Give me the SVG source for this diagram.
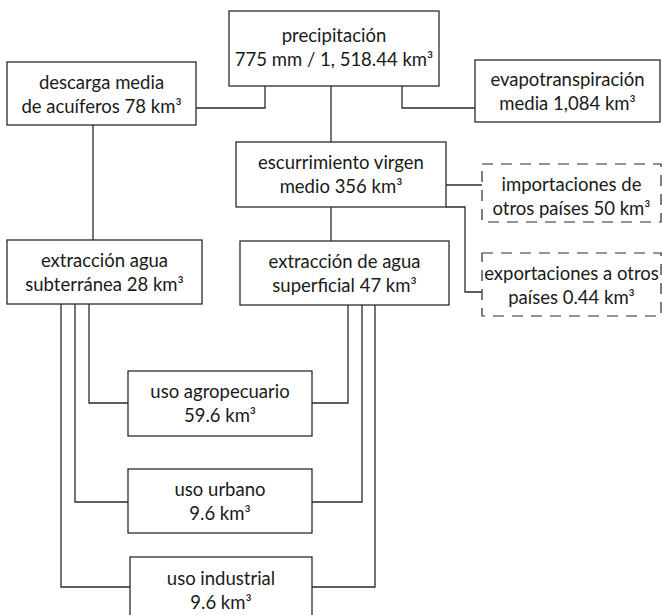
<svg xmlns="http://www.w3.org/2000/svg" width="662" height="615" viewBox="0 0 662 615">
  <style>
    .box { fill: #ffffff; stroke: #2b2b2b; stroke-width: 1.3; }
    .dash { fill: none; stroke: #2b2b2b; stroke-width: 1.2; stroke-dasharray: 11 8; }
    .wire { fill: none; stroke: #2b2b2b; stroke-width: 1.3; }
    text { font-family: Lato, "Liberation Sans", sans-serif; font-size: 18.5px; fill: #1a1a1a; text-anchor: middle; }
  </style>
  <rect width="662" height="615" fill="#ffffff"/>

  <!-- connectors -->
  <g id="connectors">
    <path class="wire" d="M196 108 H265 V86"/>
    <path class="wire" d="M475 108 H402 V86"/>
    <path class="wire" d="M331 86 V142"/>
    <path class="wire" d="M93 125 V240"/>
    <path class="wire" d="M331 207 V241"/>
    <path class="wire" d="M446 185 H482"/>
    <path class="wire" d="M446 207 H465 V292 H482"/>
    <path class="wire" d="M89 304 V403 H128"/>
    <path class="wire" d="M75 304 V502 H128"/>
    <path class="wire" d="M61 304 V587 H130"/>
    <path class="wire" d="M348 305 V403 H312"/>
    <path class="wire" d="M362 305 V502 H312"/>
    <path class="wire" d="M375 305 V587 H312"/>
  </g>

  <g id="precipitacion">
    <rect class="box" x="229" y="11" width="210" height="75"/>
    <text x="334" y="42">precipitación</text>
    <text x="334" y="66">775 mm / 1, 518.44 km³</text>
  </g>

  <g id="descarga">
    <rect class="box" x="7" y="62" width="189" height="63"/>
    <text x="101.5" y="89">descarga media</text>
    <text x="101.5" y="113">de acuíferos 78 km³</text>
  </g>

  <g id="evapotranspiracion">
    <rect class="box" x="475" y="60" width="185" height="62"/>
    <text x="567.5" y="86">evapotranspiración</text>
    <text x="567.5" y="110">media 1,084 km³</text>
  </g>

  <g id="escurrimiento">
    <rect class="box" x="236" y="142" width="210" height="65"/>
    <text x="341" y="169">escurrimiento virgen</text>
    <text x="341" y="193">medio 356 km³</text>
  </g>

  <g id="importaciones">
    <rect class="dash" x="482" y="164" width="179" height="58"/>
    <text x="571.5" y="191">importaciones de</text>
    <text x="571.5" y="215">otros países 50 km³</text>
  </g>

  <g id="exportaciones">
    <rect class="dash" x="482" y="253" width="179" height="63"/>
    <text x="571.5" y="280">exportaciones a otros</text>
    <text x="571.5" y="304">países 0.44 km³</text>
  </g>

  <g id="subterranea">
    <rect class="box" x="7" y="240" width="195" height="64"/>
    <text x="104.5" y="267">extracción agua</text>
    <text x="104.5" y="291">subterránea 28 km³</text>
  </g>

  <g id="superficial">
    <rect class="box" x="240" y="241" width="209" height="64"/>
    <text x="344.5" y="268">extracción de agua</text>
    <text x="344.5" y="292">superficial 47 km³</text>
  </g>

  <g id="agropecuario">
    <rect class="box" x="128" y="371" width="184" height="65"/>
    <text x="220" y="398">uso agropecuario</text>
    <text x="220" y="422">59.6 km³</text>
  </g>

  <g id="urbano">
    <rect class="box" x="128" y="469" width="184" height="64"/>
    <text x="220" y="496">uso urbano</text>
    <text x="220" y="520">9.6 km³</text>
  </g>

  <g id="industrial">
    <rect class="box" x="130" y="557" width="182" height="70"/>
    <text x="221" y="585">uso industrial</text>
    <text x="221" y="609">9.6 km³</text>
  </g>
</svg>
